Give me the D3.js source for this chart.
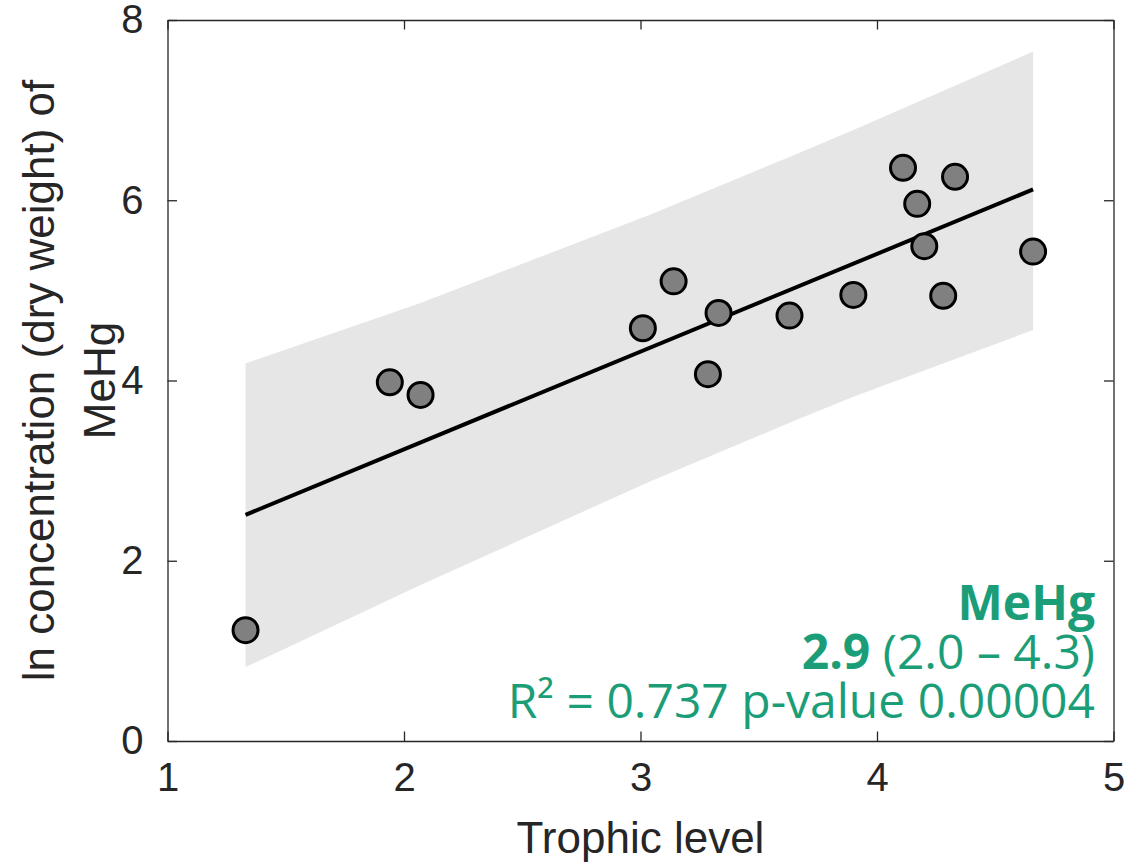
<!DOCTYPE html>
<html>
<head>
<meta charset="utf-8">
<script src="https://cdn.jsdelivr.net/npm/d3@7"></script>
<style>
  html, body { margin: 0; padding: 0; background: #fff; }
  svg { display: block; }
</style>
</head>
<body>
<svg id="chart" width="1146" height="866"></svg>
<script>
// ---- data ----
const trophicLevel = [1.33, 1.94, 2.07, 3.01, 3.14, 3.285, 3.33, 3.63, 3.90, 4.11, 4.17, 4.20, 4.28, 4.33, 4.66];
const mehgLn       = [1.23, 3.98, 3.84, 4.58, 5.10, 4.07, 4.75, 4.72, 4.95, 6.36, 5.96, 5.49, 4.94, 6.26, 5.43];

const fitX = [1.33, 4.66];
const fitY = [2.51, 6.12];

const bandX     = [1.33, 2.07, 3.04, 3.63, 3.90, 4.66];
const bandUpper = [4.19, 4.86, 5.84, 6.48, 6.78, 7.65];
const bandLower = [0.82, 1.73, 2.88, 3.53, 3.82, 4.56];

const xTicks = [1, 2, 3, 4, 5];
const yTicks = [0, 2, 4, 6, 8];

const xLabel = "Trophic level";
const yLabelLines = ["ln concentration (dry weight) of", "MeHg"];
const annoTitle = "MeHg";
const annoSlope = "2.9";
const annoCI = " (2.0 – 4.3)";
const annoStats = "R² = 0.737 p-value 0.00004";

// ---- layout ----
const svg = d3.select("#chart");
const pLeft = 167.5, pRight = 1113.5, pTop = 20, pBottom = 741;
const axisColor = "#262626";
const tickFont = "'Liberation Sans', Arial, sans-serif";

const x = d3.scaleLinear().domain([1, 5]).range([pLeft, pRight]);
const y = d3.scaleLinear().domain([0, 8]).range([pBottom, pTop]);

// band
const bandData = bandX.map((d, i) => ({x: d, lo: bandLower[i], hi: bandUpper[i]}));
svg.append("path")
  .datum(bandData)
  .attr("fill", "#e6e6e6")
  .attr("stroke", "none")
  .attr("d", d3.area().x(d => x(d.x)).y0(d => y(d.lo)).y1(d => y(d.hi)));

// fit line
svg.append("path")
  .datum(fitX.map((d, i) => [d, fitY[i]]))
  .attr("fill", "none")
  .attr("stroke", "#000")
  .attr("stroke-width", 4)
  .attr("d", d3.line().x(d => x(d[0])).y(d => y(d[1])));

// points
svg.append("g").selectAll("circle")
  .data(trophicLevel.map((d, i) => [d, mehgLn[i]]))
  .join("circle")
  .attr("cx", d => x(d[0]))
  .attr("cy", d => y(d[1]))
  .attr("r", 12.5)
  .attr("fill", "#808080")
  .attr("stroke", "#000")
  .attr("stroke-width", 3);

// axes (box with inward ticks)
const tickLen = 9.5;
function styleAxis(g) {
  g.selectAll(".domain").attr("stroke", axisColor).attr("stroke-width", 1.3);
  g.selectAll(".tick line").attr("stroke", axisColor).attr("stroke-width", 1.3);
  g.selectAll(".tick text").attr("fill", axisColor)
    .style("font-family", tickFont).style("font-size", "40px");
}
svg.append("g").attr("transform", `translate(0,${pBottom})`)
  .call(d3.axisBottom(x).tickValues(xTicks).tickFormat(d3.format("d"))
        .tickSizeInner(-tickLen).tickSizeOuter(0).tickPadding(22))
  .call(styleAxis);
svg.append("g").attr("transform", `translate(0,${pTop})`)
  .call(d3.axisTop(x).tickValues(xTicks).tickFormat("")
        .tickSizeInner(-tickLen).tickSizeOuter(0))
  .call(styleAxis);
svg.append("g").attr("transform", `translate(${pLeft},0)`)
  .call(d3.axisLeft(y).tickValues(yTicks).tickFormat(d3.format("d"))
        .tickSizeInner(-tickLen).tickSizeOuter(0).tickPadding(24))
  .call(styleAxis);
svg.append("g").attr("transform", `translate(${pRight},0)`)
  .call(d3.axisRight(y).tickValues(yTicks).tickFormat("")
        .tickSizeInner(-tickLen).tickSizeOuter(0))
  .call(styleAxis);

// axis titles
svg.append("text")
  .attr("x", (pLeft + pRight) / 2).attr("y", 853)
  .attr("text-anchor", "middle")
  .attr("fill", axisColor)
  .style("font-family", tickFont).style("font-size", "44px")
  .text(xLabel);

const yl = svg.append("text")
  .attr("transform", `translate(54,${(pTop + pBottom) / 2}) rotate(-90)`)
  .attr("text-anchor", "middle")
  .attr("fill", axisColor)
  .style("font-family", tickFont).style("font-size", "44px");
yLabelLines.forEach((t, i) => {
  yl.append("tspan").attr("x", 0).attr("y", i * 61).text(t);
});

// annotation
const annoFont = "'Open Sans', 'Noto Sans', sans-serif";
const green = "#1b9e77";
const ax = 1095;
svg.append("text").attr("x", ax).attr("y", 620).attr("text-anchor", "end")
  .attr("fill", green).style("font-family", annoFont).style("font-size", "48px")
  .style("font-weight", "bold").text(annoTitle);
const l2 = svg.append("text").attr("x", ax).attr("y", 669).attr("text-anchor", "end")
  .attr("fill", green).style("font-family", annoFont).style("font-size", "48px");
l2.append("tspan").style("font-weight", "bold").text(annoSlope);
l2.append("tspan").text(annoCI);
svg.append("text").attr("x", ax).attr("y", 718).attr("text-anchor", "end")
  .attr("fill", green).style("font-family", annoFont).style("font-size", "48px")
  .text(annoStats);
</script>
</body>
</html>
